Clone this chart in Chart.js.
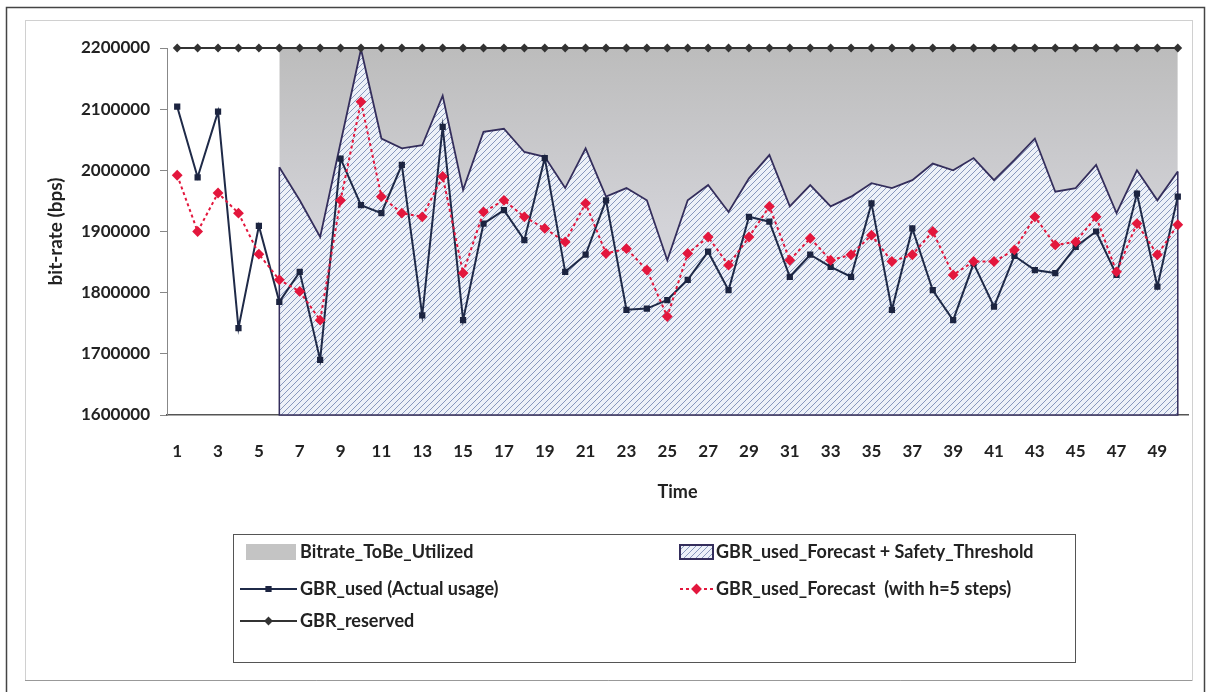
<!DOCTYPE html>
<html>
<head>
<meta charset="utf-8">
<script src="https://cdn.jsdelivr.net/npm/chart.js@4"></script>
<style>
  html, body { margin: 0; padding: 0; background: #fff; }
  #wrap { width: 1210px; height: 692px; }
</style>
</head>
<body>
<div id="wrap"><canvas id="bitrateChart" width="1210" height="692"></canvas></div>
<script>
const times = ["1","2","3","4","5","6","7","8","9","10","11","12","13","14","15","16","17","18","19","20",
  "21","22","23","24","25","26","27","28","29","30","31","32","33","34","35","36","37","38","39","40",
  "41","42","43","44","45","46","47","48","49","50"];

const gbrUsed = [2104000, 1988500, 2096000, 1742000, 1909000, 1785000, 1834000, 1690000, 2019000, 1943000,
  1930000, 2009000, 1763000, 2071000, 1755000, 1913000, 1935000, 1886000, 2020000, 1834000,
  1862000, 1951000, 1772000, 1774000, 1788000, 1821000, 1867000, 1804000, 1924000, 1916000,
  1826000, 1862000, 1842000, 1826000, 1946000, 1772000, 1905000, 1804000, 1755000, 1848000,
  1777000, 1860000, 1837000, 1832000, 1875000, 1900000, 1829000, 1962000, 1810000, 1957000];

const gbrForecast = [1992000, 1900000, 1963000, 1930000, 1863000, 1821000, 1802000, 1755000, 1951000, 2112000,
  1957000, 1930000, 1924000, 1990000, 1832000, 1932000, 1951000, 1924000, 1905000, 1883000,
  1946000, 1864000, 1872000, 1837000, 1761000, 1864000, 1891000, 1845000, 1891000, 1941000,
  1853000, 1889000, 1853000, 1862000, 1894000, 1851000, 1862000, 1900000, 1829000, 1851000,
  1851000, 1870000, 1924000, 1878000, 1883000, 1924000, 1834000, 1913000, 1862000, 1911000];

const forecastPlusThreshold = [null, null, null, null, null, 2005000, 1951000, 1891000, 2045000, 2198000,
  2052000, 2036000, 2041000, 2122000, 1968000, 2063000, 2068000, 2030000, 2022000, 1971000,
  2036000, 1957000, 1971000, 1951000, 1853000, 1951000, 1976000, 1932000, 1987000, 2025000,
  1941000, 1976000, 1941000, 1957000, 1979000, 1971000, 1984000, 2011000, 2000000, 2020000,
  1984000, 2017000, 2052000, 1965000, 1971000, 2009000, 1930000, 2000000, 1951000, 1998000];

const gbrReserved = [2200000, 2200000, 2200000, 2200000, 2200000, 2200000, 2200000, 2200000, 2200000, 2200000,
  2200000, 2200000, 2200000, 2200000, 2200000, 2200000, 2200000, 2200000, 2200000, 2200000,
  2200000, 2200000, 2200000, 2200000, 2200000, 2200000, 2200000, 2200000, 2200000, 2200000,
  2200000, 2200000, 2200000, 2200000, 2200000, 2200000, 2200000, 2200000, 2200000, 2200000,
  2200000, 2200000, 2200000, 2200000, 2200000, 2200000, 2200000, 2200000, 2200000, 2200000];

const yTicks = [1600000, 1700000, 1800000, 1900000, 2000000, 2100000, 2200000];

// gray band only exists where the forecast area exists
const toBeUtilized = gbrReserved.map((v, i) => forecastPlusThreshold[i] == null ? null : v);

const FONT = "Lato, 'Liberation Sans', sans-serif";
const TXT = "#222";

// hatch pattern for the forecast + threshold area
function makeHatch() {
  let c = document.createElement("canvas");
  c.width = 6; c.height = 6;
  let g = c.getContext("2d");
  g.fillStyle = "#edf1f8";
  g.fillRect(0, 0, 6, 6);
  g.strokeStyle = "#8898bd";
  g.lineWidth = 1;
  g.beginPath();
  g.moveTo(0, 6); g.lineTo(6, 0);
  g.moveTo(-3, 3); g.lineTo(3, -3);
  g.moveTo(3, 9); g.lineTo(9, 3);
  g.stroke();
  return g.createPattern(c, "repeat");
}
let hatch = makeHatch();

function grayFill(context) {
  let area = context.chart.chartArea;
  if (!area) return "#c6c6c6";
  let g = context.chart.ctx.createLinearGradient(0, area.top, 0, area.top + 180);
  g.addColorStop(0, "#bcbcbc");
  g.addColorStop(1, "#d3d3d8");
  return g;
}

// frame, area outline and legend box drawn on the canvas
const frameAndLegend = {
  id: "frameAndLegend",
  beforeDraw(chart) {
    let ctx = chart.ctx;
    ctx.save();
    ctx.strokeStyle = "#444";
    ctx.lineWidth = 1.5;
    ctx.strokeRect(6.5, 7.5, 1198, 700);
    ctx.strokeStyle = "#d0d0d0";
    ctx.lineWidth = 1;
    ctx.strokeRect(25.5, 20.5, 1167, 660);
    ctx.strokeStyle = "#999";
    ctx.beginPath(); ctx.moveTo(25, 680.5); ctx.lineTo(1192, 680.5); ctx.stroke();
    ctx.restore();
  },
  afterDatasetDraw(chart, args) {
    if (args.index !== 1) return;
    // Excel outlines the whole area polygon: add the side edges
    let pts = args.meta.data.filter(p => !p.skip);
    let first = pts[0], last = pts[pts.length - 1];
    let bottom = chart.scales.y.getPixelForValue(1600000);
    let ctx = chart.ctx;
    ctx.save();
    ctx.strokeStyle = chart.data.datasets[1].borderColor;
    ctx.lineWidth = 1.5;
    ctx.beginPath();
    ctx.moveTo(first.x, first.y); ctx.lineTo(first.x, bottom);
    ctx.lineTo(last.x, bottom); ctx.lineTo(last.x, last.y);
    ctx.stroke();
    ctx.restore();
  },
  afterDraw(chart) {
    let ctx = chart.ctx;
    let ds = chart.data.datasets;
    ctx.save();
    ctx.strokeStyle = "#555";
    ctx.lineWidth = 1;
    ctx.strokeRect(233.5, 534.5, 842, 128);
    ctx.font = "bold 18px " + FONT;
    ctx.fillStyle = TXT;
    ctx.textBaseline = "middle";

    let rows = [552, 589, 621];
    // Bitrate_ToBe_Utilized
    ctx.fillStyle = "#c4c4c4";
    ctx.fillRect(246, rows[0] - 8, 50, 16);
    ctx.fillStyle = TXT;
    ctx.fillText(ds[0].label, 300, rows[0]);
    // GBR_used_Forecast + Safety_Threshold
    ctx.fillStyle = hatch;
    ctx.fillRect(680, rows[0] - 7, 33, 14);
    ctx.strokeStyle = ds[1].borderColor;
    ctx.lineWidth = 2;
    ctx.strokeRect(680, rows[0] - 7, 33, 14);
    ctx.fillStyle = TXT;
    ctx.fillText(ds[1].label, 716, rows[0]);

    function lineIcon(x0, x1, y, d, r) {
      ctx.save();
      ctx.strokeStyle = d.borderColor;
      ctx.lineWidth = d.borderWidth;
      ctx.setLineDash(d.borderDash || []);
      ctx.beginPath(); ctx.moveTo(x0, y); ctx.lineTo(x1, y); ctx.stroke();
      ctx.setLineDash([]);
      ctx.fillStyle = d.pointBackgroundColor;
      ctx.strokeStyle = d.pointBorderColor;
      Chart.helpers.drawPoint(ctx, { pointStyle: d.pointStyle, radius: r, rotation: 0, borderWidth: 1 }, (x0 + x1) / 2, y);
      ctx.restore();
    }
    lineIcon(240, 297, rows[1], ds[2], 3);
    ctx.fillText(ds[2].label, 300, rows[1]);
    lineIcon(680, 713, rows[1], ds[3], 4);
    ctx.fillText(ds[3].label, 716, rows[1]);
    lineIcon(240, 297, rows[2], ds[4], 3);
    ctx.fillText(ds[4].label, 300, rows[2]);
    ctx.restore();
  }
};

let ctx = document.getElementById("bitrateChart").getContext("2d");
let bitrateChart = new Chart(ctx, {
  type: "line",
  data: {
    labels: times,
    datasets: [
      {
        label: "Bitrate_ToBe_Utilized",
        data: toBeUtilized,
        backgroundColor: grayFill,
        borderWidth: 0,
        pointRadius: 0,
        fill: 1,
        order: 6
      },
      {
        label: "GBR_used_Forecast + Safety_Threshold",
        data: forecastPlusThreshold,
        borderColor: "#342e5c",
        borderWidth: 1.8,
        backgroundColor: hatch,
        pointRadius: 0,
        fill: "start",
        order: 5
      },
      {
        label: "GBR_used (Actual usage)",
        data: gbrUsed,
        borderColor: "#1f2a48",
        borderWidth: 2,
        pointStyle: "rect",
        pointRadius: 3,
        pointBackgroundColor: "#1c2440",
        pointBorderColor: "#1c2440",
        fill: false,
        order: 2
      },
      {
        label: "GBR_used_Forecast  (with h=5 steps)",
        data: gbrForecast,
        borderColor: "#e3173d",
        borderWidth: 2,
        borderDash: [3, 3],
        pointStyle: "rectRot",
        pointRadius: 4,
        pointBackgroundColor: "#e3173d",
        pointBorderColor: "#e3173d",
        fill: false,
        order: 1
      },
      {
        label: "GBR_reserved",
        data: gbrReserved,
        borderColor: "#333",
        borderWidth: 2,
        pointStyle: "rectRot",
        pointRadius: 3,
        pointBackgroundColor: "#333",
        pointBorderColor: "#333",
        fill: false,
        order: 0
      }
    ]
  },
  options: {
    responsive: false,
    animation: false,
    clip: false,
    layout: { padding: { left: 40, top: 48, right: 22, bottom: 189 } },
    elements: { line: { tension: 0 } },
    plugins: {
      legend: { display: false },
      tooltip: { enabled: false }
    },
    scales: {
      x: {
        type: "category",
        offset: true,
        grid: { display: false },
        border: { color: "#555", width: 1.5 },
        ticks: {
          autoSkip: false,
          maxRotation: 0,
          padding: 18,
          color: TXT,
          font: { family: FONT, size: 17, weight: "bold" },
          callback: function (v, i) { return i % 2 === 0 ? times[i] : ""; }
        },
        title: {
          display: true,
          text: "Time",
          color: TXT,
          font: { family: FONT, size: 18, weight: "bold" },
          padding: { top: 10, bottom: 0 }
        },
        afterFit: function (s) { s.height = 88; }
      },
      y: {
        min: 1600000,
        max: 2200000,
        afterBuildTicks: function (s) { s.ticks = yTicks.map(v => ({ value: v })); },
        grid: { drawOnChartArea: false, drawTicks: true, tickLength: 7, color: "#888" },
        border: { color: "#888" },
        ticks: {
          padding: 10,
          color: TXT,
          font: { family: FONT, size: 17, weight: "bold" },
          callback: function (v) { return String(v); }
        },
        title: {
          display: true,
          text: "bit-rate (bps)",
          color: TXT,
          font: { family: FONT, size: 19, weight: "bold" },
          padding: { top: 4, bottom: 0 }
        },
        afterFit: function (s) { s.width = 127; }
      }
    }
  },
  plugins: [frameAndLegend]
});
</script>
</body>
</html>
